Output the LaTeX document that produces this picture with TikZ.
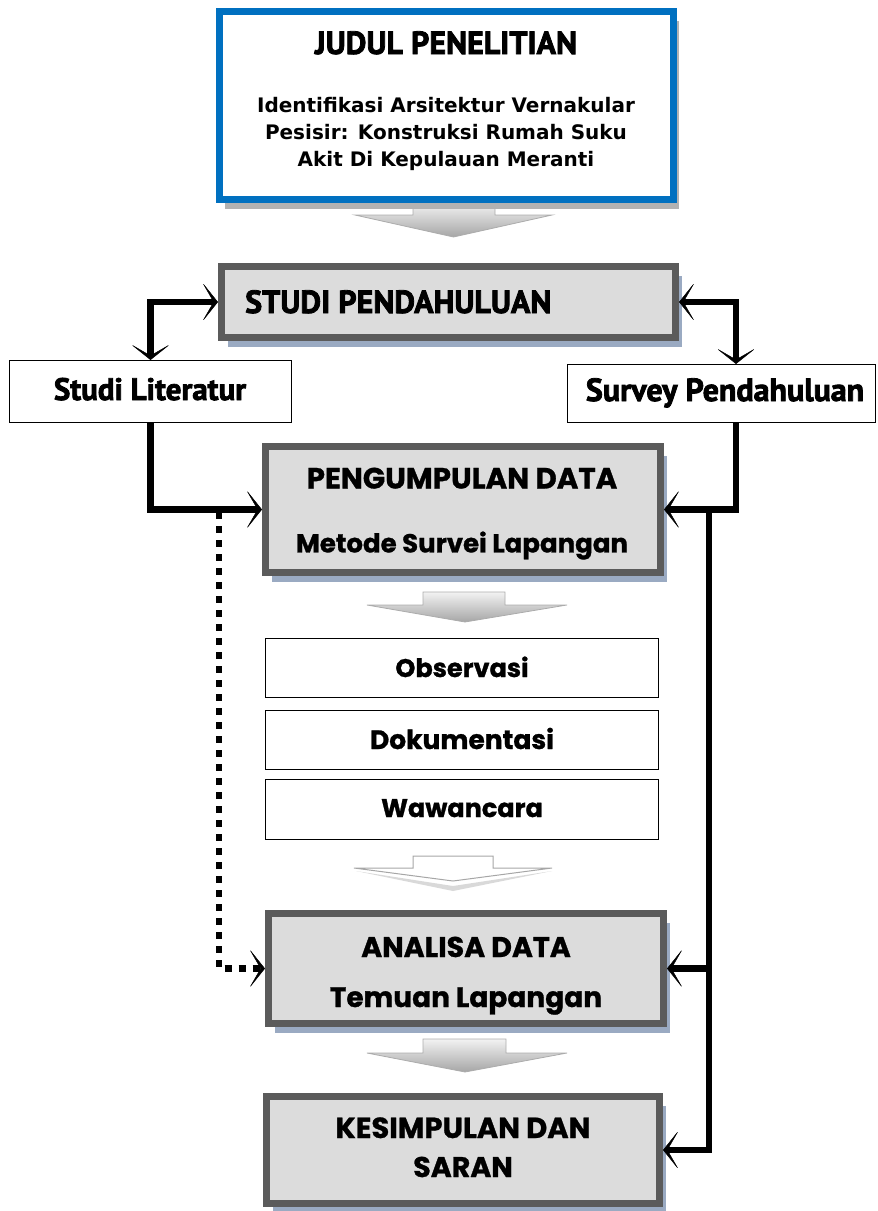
\documentclass[tikz,border=0pt]{standalone}
\usepackage{fontspec}
\usetikzlibrary{arrows.meta,shadows,calc}
\newfontfamily\condfont{PT Sans}[FakeBold=2.5]
\newfontfamily\geofont{Poppins}[FakeBold=1]
\newfontfamily\tahfont{DejaVu Sans}
\definecolor{boxblue}{HTML}{0070C0}
\definecolor{boxgray}{HTML}{DCDCDC}
\definecolor{rimgray}{HTML}{5B5B5B}
\definecolor{shblue}{HTML}{9AAAC2}
\begin{document}
\begin{tikzpicture}[x=1pt,y=-1pt,
  gbox/.style={draw=rimgray, line width=7pt, fill=boxgray, inner sep=0pt,
    drop shadow={shadow xshift=6pt, shadow yshift=-9pt, fill=shblue, opacity=1}},
  tbox/.style={draw=boxblue, line width=7pt, fill=white, inner sep=0pt,
    drop shadow={shadow xshift=5pt, shadow yshift=-9pt, fill=black!30, opacity=1}},
  wbox/.style={draw=black, line width=1.3pt, fill=white, inner sep=0pt},
  conn/.style={line width=6.5pt, black},
  tip/.tip={Stealth[length=16pt,width=40pt,inset=11.5pt,line width=0.4pt]},
  barrow/.style={draw=gray!65, line width=0.8pt, top color=gray!10, bottom color=gray!70},
  warrow/.style={draw=gray!70, line width=1pt, fill=white},
  lbl/.style={anchor=base, inner sep=0pt, text=black},
  cond/.style={font=\condfont\bfseries\fontsize{#1}{#1}\selectfont},
  geo/.style={font=\geofont\bfseries\fontsize{#1}{#1}\selectfont},
  tah/.style={font=\tahfont\bfseries\fontsize{#1}{#1}\selectfont}]
\useasboundingbox (0,0) rectangle (878,1211);

% ---- block arrows
\path[barrow] (413,203) -- (495,203) -- (495,215) -- (552,215) -- (453.5,237) -- (355,215) -- (413,215) -- cycle;
\path[barrow] (423,592) -- (505,592) -- (505,605) -- (567,605) -- (465,622) -- (367,605) -- (423,605) -- cycle;
\path[fill=gray!30] (356,871) -- (453,886) -- (552,871) -- (453,891) -- cycle;
\path[warrow] (413,856) -- (493,856) -- (493,868) -- (552,868) -- (453,881) -- (354,868) -- (413,868) -- cycle;
\path[barrow] (423,1039) -- (506,1039) -- (506,1053) -- (567,1053) -- (465,1072) -- (367,1053) -- (423,1053) -- cycle;

% ---- boxes
\node[tbox, minimum width=454pt, minimum height=188pt] (title) at (446.5,105.5) {};
\node[gbox, minimum width=454pt, minimum height=71pt] (studi) at (448.5,302) {};
\node[wbox, minimum width=281.7pt, minimum height=61.7pt] (lit) at (150.5,391.5) {};
\node[wbox, minimum width=307.7pt, minimum height=57.7pt] (survey) at (721.5,393.5) {};
\node[gbox, minimum width=395pt, minimum height=126pt] (kumpul) at (463,509.5) {};
\node[wbox, minimum width=392.7pt, minimum height=58.7pt] (obs) at (462,668) {};
\node[wbox, minimum width=392.7pt, minimum height=58.7pt] (dok) at (462,740) {};
\node[wbox, minimum width=392.7pt, minimum height=59.7pt] (waw) at (462,809.5) {};
\node[gbox, minimum width=395pt, minimum height=110pt] (analisa) at (466,968.5) {};
\node[gbox, minimum width=393pt, minimum height=107pt] (simpul) at (463,1150) {};

% ---- texts
\node[lbl, cond=32] (t1) at (446,54) {JUDUL PENELITIAN};
\node[lbl, tah=20] (t2) at (446,112) {Identifikasi Arsitektur Vernakular};
\node[lbl, tah=20] (t3) at (446,139) {Pesisir: Konstruksi Rumah Suku};
\node[lbl, tah=20] (t4) at (446,166) {Akit Di Kepulauan Meranti};
\node[lbl, cond=32, anchor=base west] (s1) at (245,313) {STUDI PENDAHULUAN};
\node[lbl, cond=31] (l1) at (150,400) {Studi Literatur};
\node[lbl, cond=32] (v1) at (725,401) {Survey Pendahuluan};
\node[lbl, geo=29.3] (k1) at (462,488.5) {PENGUMPULAN DATA};
\node[lbl, geo=26] (k2) at (462,552.4) {Metode Survei Lapangan};
\node[lbl, geo=25.5] (o1) at (462,677) {Observasi};
\node[lbl, geo=26.5] (d1) at (462,749) {Dokumentasi};
\node[lbl, geo=25.5] (w1) at (462,817) {Wawancara};
\node[lbl, geo=28.5] (a1) at (466,957) {ANALISA DATA};
\node[lbl, geo=28] (a2) at (466,1007) {Temuan Lapangan};
\node[lbl, geo=29] (c1) at (463,1138) {KESIMPULAN DAN};
\node[lbl, geo=28.5] (c2) at (463,1177) {SARAN};

% ---- connectors
\coordinate (rx) at ($(survey.north)+(14.5,0)$);
\coordinate (rxs) at ($(survey.south)+(14.5,0)$);
\coordinate (j1) at (709,509.5);
\coordinate (d0) at (219,512);
\draw[conn, {tip}-{tip}] (studi.west) -| (lit.north);
\draw[conn, {tip}-{tip}] (studi.east) -| (rx);
\draw[conn, -{tip}] (lit.south) |- (kumpul.west);
\draw[conn, -{tip}] (rxs) |- (kumpul.east);
\draw[conn, -{tip}] (j1) |- (simpul.east);
\draw[conn, -{tip}] (j1 |- analisa.east) -- (analisa.east);
\draw[conn, dash pattern=on 7pt off 7pt, -{tip}] (d0) |- (analisa.west);
\end{tikzpicture}
\end{document}
